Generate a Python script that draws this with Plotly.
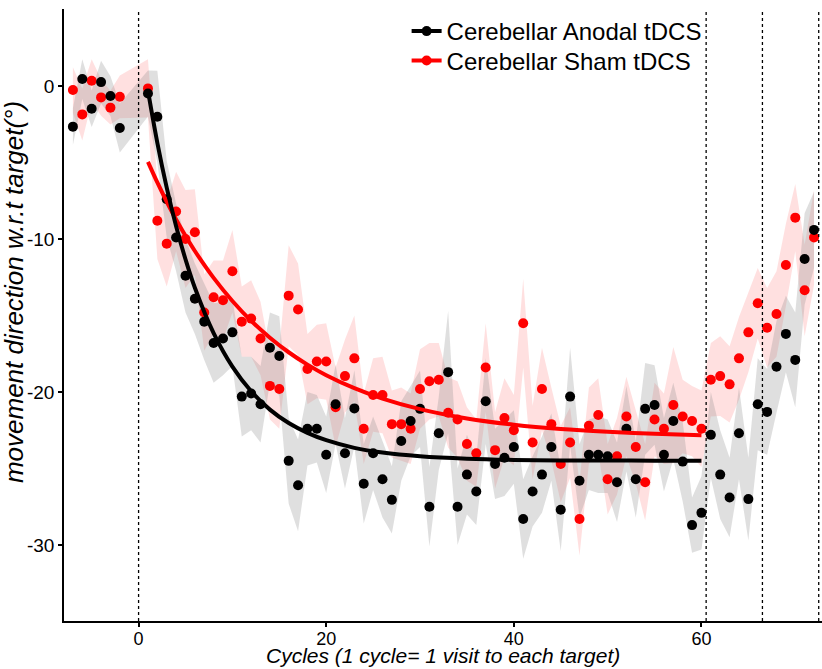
import plotly.graph_objects as go

# cycles: baseline then adaptation / washout
cycles = [-7, -6, -5, -4, -3, -2] + list(range(1, 73))

anodal_mean = [-2.65, 0.46, -1.48, 0.26, -0.65, -2.74,
               -0.48, -2.0, -7.4, -9.9, -12.4, -13.9, -15.4, -16.8, -16.5, -16.1,
               -20.3, -20.1, -20.8, -17.1, -17.65, -24.5, -26.1, -22.4, -22.4, -24.1,
               -20.8, -24.0, -21.07, -26.0, -24.0, -25.7, -27.05, -23.2, -21.9, -21.1,
               -27.5, -22.7, -18.7, -27.5, -25.4, -26.5, -20.6, -24.7, -24.3, -23.6,
               -28.3, -26.5, -25.4, -23.6, -27.7, -20.3, -25.8, -24.1, -24.1, -24.2,
               -25.9, -22.4, -25.7, -21.1, -20.85, -24.1, -21.9, -24.55, -28.7, -27.9,
               -22.8, -25.4, -26.9, -22.7, -27.0, -20.8, -21.3, -18.35, -16.2, -17.9,
               -11.3, -9.4]
anodal_se = [1.2, 1.3, 1.2, 1.4, 1.3, 1.6,
             1.5, 3.0, 2.5, 2.2, 2.4, 2.3, 2.5, 2.6, 2.4, 2.2,
             2.6, 2.4, 2.5, 2.3, 2.6, 2.8, 3.0, 2.4, 2.2, 2.5,
             2.6, 2.3, 2.5, 2.6, 2.4, 2.5, 2.2, 2.6, 2.3, 2.5,
             2.6, 2.4, 4.0, 2.5, 2.6, 2.2, 2.8, 2.3, 2.5, 2.4,
             2.6, 2.3, 2.5, 2.2, 2.7, 3.2, 2.4, 2.3, 2.5, 2.4,
             2.6, 2.8, 2.5, 3.0, 2.6, 2.4, 2.5, 2.6, 1.8, 2.4,
             2.8, 2.9, 2.6, 3.0, 2.7, 3.0, 2.8, 3.0, 2.5, 3.1,
             3.0, 2.5]

sham_mean = [-0.26, -1.85, 0.35, -0.74, -1.41, -0.70,
             -0.15, -8.8, -10.3, -8.2, -10.0, -9.55, -14.8, -13.8, -14.0, -12.1,
             -15.4, -15.2, -16.5, -19.6, -19.8, -13.7, -14.6, -18.5, -18.0, -18.0,
             -21.0, -18.96, -17.8, -22.4, -20.2, -20.2, -22.1, -22.1, -22.4, -19.8,
             -19.3, -19.2, -21.35, -21.8, -23.4, -24.0, -18.4, -23.8, -21.7, -22.5,
             -15.5, -23.3, -19.8, -22.1, -24.7, -23.3, -28.3, -22.2, -21.5, -25.7,
             -24.2, -21.6, -23.6, -25.9, -21.8, -22.4, -20.85, -21.6, -21.9, -22.4,
             -19.2, -18.96, -19.5, -17.8, -16.1, -14.2, -15.8, -14.9, -11.7, -8.6,
             -13.35, -9.9]
sham_se = [1.5, 1.7, 1.4, 1.2, 1.1, 1.4,
           1.9, 2.5, 2.8, 2.6, 3.2, 2.8, 2.5, 2.4, 2.6, 2.7,
           2.3, 2.5, 2.4, 2.2, 2.6, 3.3, 3.0, 2.3, 2.4, 2.5,
           2.6, 2.4, 2.8, 2.3, 2.4, 2.5, 2.2, 2.4, 2.3, 2.6,
           2.5, 2.4, 2.3, 2.5, 2.4, 2.2, 2.9, 2.5, 2.6, 2.3,
           2.9, 2.4, 2.7, 2.4, 2.5, 2.3, 2.4, 2.5, 2.4, 2.3,
           2.5, 2.6, 2.4, 2.5, 2.4, 2.3, 3.8, 2.4, 2.3, 2.5,
           2.4, 2.6, 2.5, 2.7, 2.6, 2.3, 2.6, 2.8, 2.7, 2.2,
           3.0, 3.1]

# exponential fits (adaptation block)
fit_cycles = [1, 2, 3, 4, 5, 6, 8, 10, 12, 14, 16, 18, 20, 23, 26, 30, 35, 40, 45, 50, 55, 60]
anodal_fit = [-0.30, -3.71, -6.64, -9.16, -11.32, -13.18, -16.15, -18.34, -19.95, -21.15,
              -22.03, -22.67, -23.15, -23.65, -23.96, -24.20, -24.36, -24.44, -24.47, -24.48,
              -24.49, -24.50]
sham_fit = [-4.95, -6.30, -7.56, -8.72, -9.79, -10.78, -12.54, -14.05, -15.35, -16.45,
            -17.40, -18.21, -18.90, -19.75, -20.43, -21.12, -21.73, -22.14, -22.42, -22.60,
            -22.73, -22.82]

phase_lines = [0, 60.5, 66.5, 72.5]

x_ticks = [0, 20, 40, 60]
y_ticks = [0, -10, -20, -30]
y_ticklabels = ["0", "-10", "-20", "-30"]

groups = ["Cerebellar Anodal tDCS", "Cerebellar Sham tDCS"]
point_colors = ["#000000", "#FF0000"]
band_colors = ["rgba(140,140,140,0.28)", "rgba(255,0,0,0.12)"]

FONT = "Liberation Sans, Arial, sans-serif"


def band(fig, mean, se, color):
    upper = [m + s for m, s in zip(mean, se)]
    lower = [m - s for m, s in zip(mean, se)]
    fig.add_trace(go.Scatter(x=cycles + cycles[::-1], y=upper + lower[::-1],
                             fill="toself", fillcolor=color, mode="none",
                             hoverinfo="skip", showlegend=False))


def main():
    fig = go.Figure()

    band(fig, sham_mean, sham_se, band_colors[1])
    band(fig, anodal_mean, anodal_se, band_colors[0])

    fig.add_trace(go.Scatter(x=cycles, y=sham_mean, mode="markers", showlegend=False,
                             marker=dict(color=point_colors[1], size=10)))
    fig.add_trace(go.Scatter(x=cycles, y=anodal_mean, mode="markers", showlegend=False,
                             marker=dict(color=point_colors[0], size=10)))

    fig.add_trace(go.Scatter(x=fit_cycles, y=sham_fit, mode="lines", showlegend=False,
                             line=dict(color=point_colors[1], width=4, shape="spline")))
    fig.add_trace(go.Scatter(x=fit_cycles, y=anodal_fit, mode="lines", showlegend=False,
                             line=dict(color=point_colors[0], width=4, shape="spline")))

    # legend entries (point + line keys), one legend box per row for tighter spacing
    for name, col, leg in zip(groups, point_colors, ["legend", "legend2"]):
        fig.add_trace(go.Scatter(x=[None], y=[None], mode="lines+markers", name=name,
                                 legend=leg, line=dict(color=col, width=4),
                                 marker=dict(color=col, size=10)))

    for xv in phase_lines:
        fig.add_vline(x=xv, line=dict(color="black", width=1.3, dash="dot"))

    leg_style = dict(xanchor="left", yanchor="top", bgcolor="rgba(0,0,0,0)",
                     font=dict(size=24), itemwidth=30)
    fig.update_layout(
        width=822, height=669,
        margin=dict(l=64, r=0, t=9, b=48),
        paper_bgcolor="white", plot_bgcolor="white",
        font=dict(family=FONT, color="black", size=19),
        legend=dict(x=0.452, y=1.0, **leg_style),
        legend2=dict(x=0.452, y=0.952, **leg_style),
        showlegend=True,
    )
    fig.update_xaxes(range=[-7.95, 72.85], tickvals=x_ticks,
                     showgrid=False, zeroline=False, showline=True, linecolor="black",
                     linewidth=1.5, ticks="outside", ticklen=4, tickwidth=1.5,
                     tickcolor="black", tickfont=dict(size=18), ticklabelstandoff=-3)
    fig.update_yaxes(range=[-34.97, 5.04], tickvals=y_ticks, ticktext=y_ticklabels,
                     showgrid=False, zeroline=False, showline=True, linecolor="black",
                     linewidth=1.5, ticks="outside", ticklen=4, tickwidth=1.5,
                     tickcolor="black", tickfont=dict(size=19))

    fig.add_annotation(text="Cycles (1 cycle= 1 visit to each target)", xref="paper",
                       yref="paper", x=0.5, y=-0.079, yanchor="bottom", showarrow=False,
                       font=dict(size=21, style="italic"))
    fig.add_annotation(text="movement direction w.r.t target(°)", xref="paper",
                       yref="paper", x=-0.065, y=0.537, xanchor="center", textangle=-90,
                       showarrow=False, font=dict(size=26, style="italic"))

    fig.write_html("out.html", config={"displayModeBar": False},
                   post_script="document.body.style.margin='0';")


main()
